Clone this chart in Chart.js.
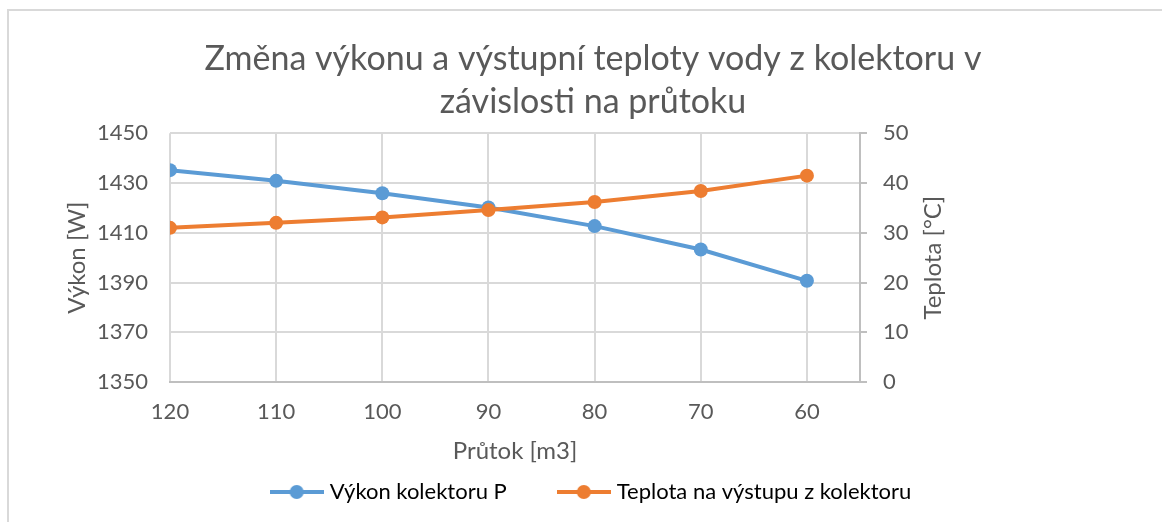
<!DOCTYPE html>
<html>
<head>
<meta charset="utf-8">
<script src="https://cdn.jsdelivr.net/npm/chart.js@4.4.1/dist/chart.umd.min.js"></script>
<style>
  body { margin: 0; background: #fff; }
</style>
</head>
<body>
<canvas id="flow-chart" width="1162" height="522"></canvas>
<script>
// průtok [m3] - categories on the x axis (reversed, 120 on the left)
const flowLabels = [120, 110, 100, 90, 80, 70, 60];
// výkon kolektoru P [W]
const powerValues = [1435.2, 1430.9, 1425.9, 1420.2, 1412.7, 1403.3, 1390.7];
// teplota na výstupu z kolektoru [°C]
const tempValues = [31.0, 32.0, 33.1, 34.6, 36.2, 38.4, 41.5];

const titleLines = ['Změna výkonu a výstupní teploty vody z kolektoru v', 'závislosti na průtoku'];
const seriesNames = ['Výkon kolektoru P', 'Teplota na výstupu z kolektoru'];

const textColor = '#595959';
const gridColor = '#d9d9d9';
const axisColor = '#bfbfbf';
const blue = '#5b9bd5';
const orange = '#ed7d31';
const fontFamily = 'Lato, "Open Sans", sans-serif';

Chart.defaults.font.family = fontFamily;
Chart.defaults.color = textColor;

function legendMarker(color) {
    const c = document.createElement('canvas');
    c.width = 54;
    c.height = 16;
    const g = c.getContext('2d');
    g.strokeStyle = color;
    g.lineWidth = 4;
    g.beginPath();
    g.moveTo(0, 8);
    g.lineTo(54, 8);
    g.stroke();
    g.fillStyle = color;
    g.beginPath();
    g.arc(27, 8, 7, 0, Math.PI * 2);
    g.fill();
    return c;
}
const spacer = document.createElement('canvas');
spacer.width = 1;
spacer.height = 1;

const frame = {
    id: 'frame',
    beforeDraw(chart) {
        const ctx = chart.ctx;
        ctx.save();
        ctx.strokeStyle = gridColor;
        ctx.lineWidth = 2;
        ctx.beginPath();
        ctx.moveTo(8, 522);
        ctx.lineTo(8, 10);
        ctx.lineTo(1162, 10);
        ctx.stroke();
        ctx.restore();
    },
    afterDraw(chart) {
        // right axis title reads bottom-to-top like the left one
        const ctx = chart.ctx;
        const a = chart.chartArea;
        ctx.save();
        ctx.translate(933, (a.top + a.bottom) / 2);
        ctx.rotate(-Math.PI / 2);
        ctx.fillStyle = textColor;
        ctx.font = '24px ' + fontFamily;
        ctx.textAlign = 'center';
        ctx.textBaseline = 'middle';
        ctx.fillText('Teplota [°C]', 0, 0);
        ctx.restore();
    }
};

const flowData = {
    datasets: [{
        label: seriesNames[0],
        data: flowLabels.map((x, i) => ({x: x, y: powerValues[i]})),
        yAxisID: 'y',
        borderColor: blue,
        backgroundColor: blue,
        borderWidth: 4,
        pointRadius: 7,
        pointBorderWidth: 0,
        order: 1,
    }, {
        label: seriesNames[1],
        data: flowLabels.map((x, i) => ({x: x, y: tempValues[i]})),
        yAxisID: 'y1',
        borderColor: orange,
        backgroundColor: orange,
        borderWidth: 4,
        pointRadius: 7,
        pointBorderWidth: 0,
        order: 0,
    }]
};

const flowConfig = {
    type: 'line',
    data: flowData,
    plugins: [frame],
    options: {
        responsive: false,
        animation: false,
        layout: {
            padding: {left: 36, right: 12, top: 13, bottom: 9}
        },
        plugins: {
            tooltip: {enabled: false},
            title: {
                display: true,
                text: titleLines,
                color: textColor,
                font: {size: 34, weight: 'normal', lineHeight: 1.27},
                padding: {top: 24, bottom: 10},
            },
            legend: {
                position: 'bottom',
                labels: {
                    usePointStyle: true,
                    pointStyleWidth: 44,
                    boxHeight: 14,
                    padding: 0,
                    color: textColor,
                    font: {size: 22},
                    generateLabels: () => [
                        {text: seriesNames[0], pointStyle: legendMarker(blue), fillStyle: blue, strokeStyle: blue, lineWidth: 0, datasetIndex: 0, hidden: false},
                        {text: '', pointStyle: spacer, fillStyle: 'rgba(0,0,0,0)', strokeStyle: 'rgba(0,0,0,0)', lineWidth: 0, hidden: false},
                        {text: seriesNames[1], pointStyle: legendMarker(orange), fillStyle: orange, strokeStyle: orange, lineWidth: 0, datasetIndex: 1, hidden: false},
                    ],
                },
            },
        },
        scales: {
            x: {
                type: 'linear',
                reverse: true,
                min: 55,
                max: 120,
                afterBuildTicks: (scale) => {
                    scale.ticks = flowLabels.map(v => ({value: v}));
                },
                grid: {color: gridColor, lineWidth: 2, drawTicks: false},
                border: {color: axisColor, width: 2},
                ticks: {padding: 17, font: {size: 22}, color: textColor},
                title: {
                    display: true,
                    text: 'Průtok [m3]',
                    color: textColor,
                    font: {size: 24},
                    padding: {top: 10, bottom: 15},
                },
                afterFit: (scale) => { scale.height = 99; },
            },
            y: {
                position: 'left',
                min: 1350,
                max: 1450,
                ticks: {stepSize: 20, padding: 22, font: {size: 22}, color: textColor, callback: (v) => String(v)},
                grid: {color: gridColor, lineWidth: 2, drawTicks: false},
                border: {display: false},
                title: {
                    display: true,
                    text: 'Výkon [W]',
                    color: textColor,
                    font: {size: 24},
                    padding: {top: 27, bottom: 0},
                },
                afterFit: (scale) => { scale.width = 134; },
            },
            y1: {
                position: 'right',
                min: 0,
                max: 50,
                ticks: {stepSize: 10, padding: 16, font: {size: 22}, color: textColor},
                grid: {drawOnChartArea: false, color: axisColor, lineWidth: 2, tickLength: 7},
                border: {color: axisColor, width: 2},
                afterFit: (scale) => { scale.width = 290; },
            },
        },
    },
};

const flowChart = new Chart(document.getElementById('flow-chart'), flowConfig);
</script>
</body>
</html>
